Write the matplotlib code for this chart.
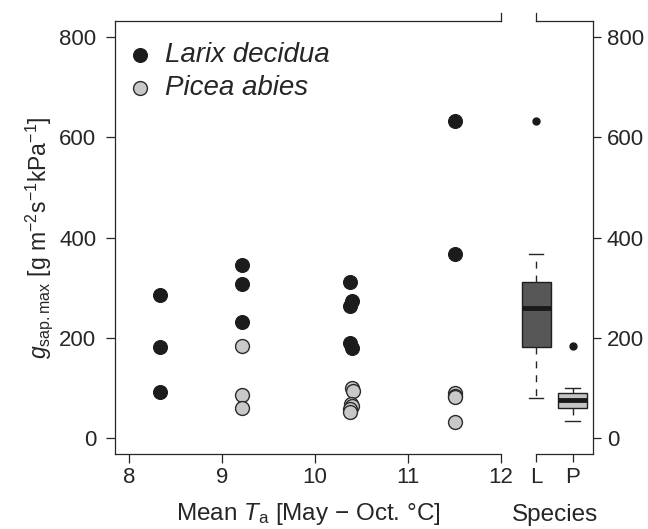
import matplotlib.pyplot as plt

plt.rcParams['font.family'] = 'Liberation Sans'
plt.rcParams['mathtext.fontset'] = 'custom'
plt.rcParams['mathtext.rm'] = 'Liberation Sans'
plt.rcParams['mathtext.it'] = 'Liberation Sans:italic'

# scatter data: mean air temperature vs. max canopy conductance
larix_temp = [8.33, 8.33, 8.33, 9.21, 9.21, 9.21, 10.38, 10.40, 10.37, 10.38, 10.40, 11.51, 11.51]
larix_g = [285, 181, 92, 346, 308, 232, 311, 273, 263, 189, 179, 632, 367]
picea_temp = [9.21, 9.21, 9.21, 10.40, 10.41, 10.39, 10.40, 10.38, 10.38, 11.51, 11.51, 11.50, 11.51]
picea_g = [184, 86, 61, 100, 94, 68, 64, 58, 53, 90, 85, 82, 33]

# boxplot summary per species
species = ['L', 'P']
box_low = [80, 34]
box_q1 = [182, 60]
box_med = [260, 76]
box_q3 = [311, 90]
box_high = [368, 100]
box_outliers = [[632], [184]]

ink = '#262626'
W, H = 648, 529
fig = plt.figure(figsize=(W / 100, H / 100), dpi=100)
bottom, top = 454.3, 20.7
ax = fig.add_axes([115 / W, 1 - bottom / H, (501 - 115) / W, (bottom - top) / H])
ax2 = fig.add_axes([518 / W, 1 - bottom / H, (593 - 518) / W, (bottom - top) / H])

ylim = (-32, 832)
tick_fs = 16
lab_fs = 17.5

ax.scatter(larix_temp, larix_g, s=100, c='#1c1c1c', edgecolors='#1c1c1c', linewidths=0.8,
           label='Larix decidua', zorder=3)
ax.scatter(picea_temp, picea_g, s=100, c='#c8c8c8', edgecolors='#2a2a2a', linewidths=1,
           label='Picea abies', zorder=3)
ax.set_xlim(7.846, 12)
ax.set_ylim(*ylim)
ax.set_xticks([8, 9, 10, 11, 12])
ax.set_yticks([0, 200, 400, 600, 800])
ax.spines['right'].set_visible(False)
for s in ax.spines.values():
    s.set_color(ink)
    s.set_linewidth(0.9)
ax.tick_params(direction='out', length=6.5, width=0.9, colors=ink, labelsize=tick_fs, pad=3)
ax.tick_params(axis='y', pad=7)
ax.plot([12, 12], [ylim[1], ylim[1] + 16], color=ink, lw=0.9, clip_on=False)
ax.set_xlabel(r'Mean $T_\mathrm{a}$ [May $-$ Oct. °C]', fontsize=lab_fs, color=ink, labelpad=9)
ax.set_ylabel(r'$g_{\mathrm{sap.max}}$ [g m$^{-2}$s$^{-1}$kPa$^{-1}$]', fontsize=16.5, color=ink, labelpad=3)
leg = ax.legend(loc='upper left', bbox_to_anchor=(-0.013, 1.0), frameon=False, scatterpoints=1,
                prop={'style': 'italic', 'size': 20}, handlelength=0.6, handletextpad=0.6,
                labelspacing=0.25, borderaxespad=0.38)
for t in leg.get_texts():
    t.set_color(ink)

stats = []
for i in range(len(species)):
    stats.append(dict(whislo=box_low[i], q1=box_q1[i], med=box_med[i], q3=box_q3[i],
                      whishi=box_high[i], fliers=box_outliers[i], label=species[i]))
bp = ax2.bxp(stats, positions=[1, 2], widths=0.8, patch_artist=True, capwidths=0.4,
             boxprops=dict(edgecolor='#1e1e1e', linewidth=1),
             medianprops=dict(color='#1a1a1a', linewidth=3.5),
             whiskerprops=dict(color=ink, linewidth=1, linestyle=(0, (5, 5))),
             capprops=dict(color=ink, linewidth=1),
             flierprops=dict(marker='o', markerfacecolor='#1a1a1a', markeredgecolor='#1a1a1a', markersize=5))
for patch, col in zip(bp['boxes'], ['#575757', '#c4c4c4']):
    patch.set_facecolor(col)
ax2.set_xlim(0.5, 2.56)
ax2.set_ylim(*ylim)
ax2.set_yticks([0, 200, 400, 600, 800])
ax2.yaxis.tick_right()
ax2.spines['left'].set_visible(False)
ax2.spines['top'].set_bounds(1, 2.56)
ax2.spines['bottom'].set_bounds(1, 2.56)
for s in ax2.spines.values():
    s.set_color(ink)
    s.set_linewidth(0.9)
ax2.tick_params(direction='out', length=6, width=0.9, colors=ink, labelsize=tick_fs, pad=3)
ax2.tick_params(axis='y', pad=4)
ax2.plot([1, 1], [ylim[1], ylim[1] + 16], color=ink, lw=0.9, clip_on=False)
ax2.set_xlabel('Species', fontsize=lab_fs, color=ink, labelpad=12)

fig.savefig('out.png', dpi=100)
